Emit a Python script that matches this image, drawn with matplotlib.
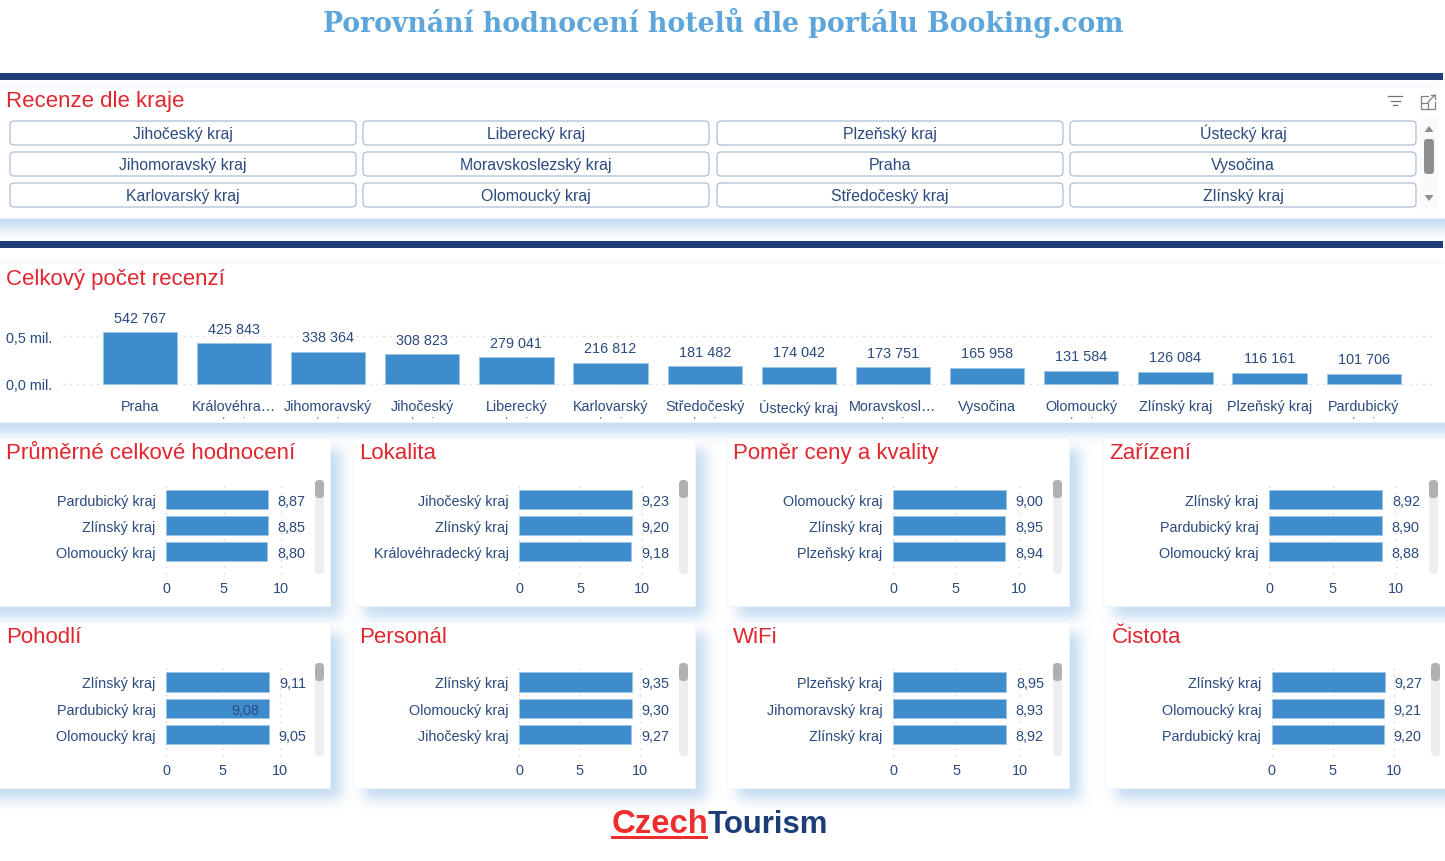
import numpy as np
import matplotlib
matplotlib.use("Agg")
import matplotlib.pyplot as plt
from matplotlib.patches import FancyBboxPatch, Rectangle, Polygon
from matplotlib.transforms import Bbox
from math import erf

W, H = 1445, 862
plt.rcParams['font.family'] = ['Liberation Sans', 'DejaVu Sans']

PAGE_TITLE = "Porovnání hodnocení hotelů dle portálu Booking.com"

slicer_columns = [
    ["Jihočeský kraj", "Jihomoravský kraj", "Karlovarský kraj"],
    ["Liberecký kraj", "Moravskoslezský kraj", "Olomoucký kraj"],
    ["Plzeňský kraj", "Praha", "Středočeský kraj"],
    ["Ústecký kraj", "Vysočina", "Zlínský kraj"],
]

review_labels = ["Praha", "Královéhra…", "Jihomoravský", "Jihočeský", "Liberecký", "Karlovarský",
                 "Středočeský", "Ústecký kraj", "Moravskosl…", "Vysočina", "Olomoucký",
                 "Zlínský kraj", "Plzeňský kraj", "Pardubický"]
review_counts = [542767, 425843, 338364, 308823, 279041, 216812, 181482,
                 174042, 173751, 165958, 131584, 126084, 116161, 101706]
review_wrapped = [False, True, True, True, True, True, True, False, True, False, True, False, False, True]
review_yticks = [0, 500000]
review_yticklabels = ["0,0 mil.", "0,5 mil."]

celkove_names = ["Pardubický kraj", "Zlínský kraj", "Olomoucký kraj"]
celkove_vals = [8.87, 8.85, 8.80]
lokalita_names = ["Jihočeský kraj", "Zlínský kraj", "Královéhradecký kraj"]
lokalita_vals = [9.23, 9.20, 9.18]
pomer_names = ["Olomoucký kraj", "Zlínský kraj", "Plzeňský kraj"]
pomer_vals = [9.00, 8.95, 8.94]
zarizeni_names = ["Zlínský kraj", "Pardubický kraj", "Olomoucký kraj"]
zarizeni_vals = [8.92, 8.90, 8.88]
pohodli_names = ["Zlínský kraj", "Pardubický kraj", "Olomoucký kraj"]
pohodli_vals = [9.11, 9.08, 9.05]
personal_names = ["Zlínský kraj", "Olomoucký kraj", "Jihočeský kraj"]
personal_vals = [9.35, 9.30, 9.27]
wifi_names = ["Plzeňský kraj", "Jihomoravský kraj", "Zlínský kraj"]
wifi_vals = [8.95, 8.93, 8.92]
cistota_names = ["Zlínský kraj", "Olomoucký kraj", "Pardubický kraj"]
cistota_vals = [9.27, 9.21, 9.20]
score_ticks = [0, 5, 10]

NAVY = "#1C3D78"
TXT = "#2B4A7F"
RED = "#E0262E"
BAR = "#3F8CCD"
BAR_EDGE = "#9CC5E8"
GRID = "#D2D2D2"
FS = 10.4

fig = plt.figure(figsize=(W / 100, H / 100), dpi=100, facecolor="white")
bg = fig.add_axes([0, 0, 1, 1], zorder=0)
bg.set_xlim(0, W)
bg.set_ylim(H, 0)
bg.axis("off")

# panels: x0, x1, y0, y1
row1 = (439, 607)
row2 = (623, 789)
panels = [
    (-40, W + 40, 87, 219), (-40, W + 40, 264, 423),
    (-40, 330, *row1), (353, 695, *row1), (727, 1069, *row1), (1103, W + 40, *row1),
    (-40, 330, *row2), (353, 695, *row2), (727, 1069, *row2), (1105, W + 40, *row2),
]
# soft drop shadows
X = np.arange(W) + 0.5
Y = np.arange(H) + 0.5
verf = np.vectorize(erf)
OFF, SIG = 11.0, 6.5
alpha = np.zeros((H, W))
for x0, x1, y0, y1 in panels:
    x0s = x0 + OFF if x0 >= 0 else -100
    ax_ = 0.5 * (verf((X - x0s) / (SIG * 2**.5)) - verf((X - x1 - OFF) / (SIG * 2**.5)))
    ay_ = 0.5 * (verf((Y - y0 - OFF) / (SIG * 2**.5)) - verf((Y - y1 - OFF) / (SIG * 2**.5)))
    alpha = np.maximum(alpha, np.outer(ay_, ax_))
img = np.zeros((H, W, 4))
img[..., :3] = np.array([195, 219, 240]) / 255
img[..., 3] = alpha
bg.imshow(img, extent=(0, W, H, 0), aspect="auto", zorder=1, interpolation="nearest")
bg.set_xlim(0, W)
bg.set_ylim(H, 0)

for x0, x1, y0, y1 in panels:
    bg.add_patch(Rectangle((x0, y0), x1 - x0, y1 - y0, fc="white", ec="#F1F6FB", lw=0.6, zorder=2))
bg.add_patch(Rectangle((0, 82), 1437, 5, fc="#F7FAFE", ec="none", zorder=2))
bg.add_patch(Rectangle((0, 261), 1437, 3, fc="#F9FBFE", ec="none", zorder=2))
bg.add_patch(Rectangle((0, 74), 1443, 7, fc=NAVY, ec="none", zorder=3))
bg.add_patch(Rectangle((0, 242), 1443, 7, fc=NAVY, ec="none", zorder=3))

bg.text(723, 23.5, PAGE_TITLE, family="DejaVu Serif", weight="bold", color="#5DA5DA",
        fontsize=19.2, ha="center", va="center", zorder=4)


def title(x, y, s):
    bg.text(x, y, s, color=RED, fontsize=16.05, ha="left", va="center", zorder=4)


title(6, 101.5, "Recenze dle kraje")
title(6, 279.5, "Celkový počet recenzí")

# slicer buttons
col_x = [(10, 356), (363, 709), (717, 1063), (1070, 1416)]
row_y = [(122, 146), (153, 177), (184, 208)]
for (xa, xb), col in zip(col_x, slicer_columns):
    for (ya, yb), name in zip(row_y, col):
        bg.add_patch(FancyBboxPatch((xa + 4, ya + 4), xb - xa - 8, yb - ya - 8,
                                    boxstyle="round,pad=4,rounding_size=4",
                                    fc="white", ec="#A3B6D2", lw=0.8, zorder=4))
        bg.text((xa + xb) / 2, yb - 7, name, color=TXT, fontsize=11.45,
                ha="center", va="baseline", zorder=5)

# slicer scrollbar and header icons
bg.add_patch(Rectangle((1420, 118), 18, 92, fc="#FAFAFA", ec="none", zorder=4))
bg.add_patch(FancyBboxPatch((1426, 142), 6, 31, boxstyle="round,pad=2,rounding_size=3",
                            fc="#8F8F8F", ec="none", zorder=5))
bg.add_patch(Polygon([(1424.5, 133), (1433.5, 133), (1429, 127)], fc="#8F8F8F", ec="none", zorder=5))
bg.add_patch(Polygon([(1424.5, 196), (1433.5, 196), (1429, 202)], fc="#8F8F8F", ec="none", zorder=5))
for yy, half in [(96.5, 7), (101.5, 4.5), (106, 2)]:
    bg.plot([1395 - half, 1395 + half], [yy, yy], color="#707070", lw=0.9, zorder=5)
bg.plot([1428, 1421, 1421, 1435, 1435], [97, 97, 110, 110, 103], color="#808080", lw=0.9, zorder=5)
bg.plot([1421, 1428, 1428], [104, 104, 110], color="#808080", lw=0.9, zorder=5)
bg.plot([1428, 1435], [103, 96], color="#808080", lw=0.9, zorder=5)
bg.plot([1431, 1435, 1435], [96, 96, 100], color="#808080", lw=0.9, zorder=5)


def add_axes_px(x0, x1, y0, y1):
    a = fig.add_axes([x0 / W, 1 - y1 / H, (x1 - x0) / W, (y1 - y0) / H], zorder=3)
    a.patch.set_alpha(0)
    for s in a.spines.values():
        s.set_visible(False)
    return a


# main column chart
GAX0, GAX1 = 63, 1437
STEP = 94.15
C0 = 139.8
main = add_axes_px(GAX0, GAX1, 305, 395)
main.set_xlim((GAX0 - C0) / STEP, (GAX1 - C0) / STEP)
PER_MIL = 94.4
main.set_ylim(-(395 - 384.5) / PER_MIL * 1e6, (384.5 - 305) / PER_MIL * 1e6)
xs = np.arange(len(review_counts))
main.bar(xs, review_counts, width=0.79, color=BAR, edgecolor=BAR_EDGE, linewidth=0.7, zorder=3)
for t in review_yticks:
    main.axhline(t, color=GRID, lw=1.0, dashes=(1, 3.8), zorder=1)
main.set_yticks(review_yticks, review_yticklabels, color=TXT, fontsize=FS)
main.set_xticks(xs, review_labels, color=TXT, fontsize=FS)
main.tick_params(axis="both", length=0)
main.tick_params(axis="y", pad=8)
main.tick_params(axis="x", pad=3.7)
for x, v in zip(xs, review_counts):
    main.annotate(f"{v:,}".replace(",", " "), (x, v), xytext=(0, 10.5), textcoords="offset points",
                  ha="center", va="center", color=TXT, fontsize=FS)
clip = Bbox([[0, H - 419.5], [W, H - 416]])
for x, w in zip(xs, review_wrapped):
    if w:
        t = main.annotate("kraj", (x, 0), xytext=(0, -(424.5 - 384.5) * 0.72), textcoords="offset points",
                          ha="center", va="center", color="#8090B0", fontsize=FS, annotation_clip=False)
        t.set_clip_on(True)
        t.set_clip_box(clip)

# horizontal score charts
specs = [
    ("Průměrné celkové hodnocení", celkove_names, celkove_vals, 6, 166.0, 281.0, 315, 1),
    ("Lokalita", lokalita_names, lokalita_vals, 359, 519.0, 641.5, 679, 1),
    ("Poměr ceny a kvality", pomer_names, pomer_vals, 733, 893.0, 1018.5, 1053, 1),
    ("Zařízení", zarizeni_names, zarizeni_vals, 1109, 1269.0, 1396.0, 1429, 1),
    ("Pohodlí", pohodli_names, pohodli_vals, 6, 166.0, 279.5, 315, 2),
    ("Personál", personal_names, personal_vals, 359, 519.0, 640.0, 679, 2),
    ("WiFi", wifi_names, wifi_vals, 733, 893.0, 1019.5, 1053, 2),
    ("Čistota", cistota_names, cistota_vals, 1112, 1271.5, 1393.5, 1431, 2),
]
ROW_STEP = 26.2
for name, cats, vals, tx, x0, x10, sx, row in specs:
    if row == 1:
        gy0, gy1, c0, ty, s0, s1 = 484, 575, 500.3, 453.5, 481, 575
    else:
        gy0, gy1, c0, ty, s0, s1 = 666, 757, 683.0, 637.5, 664, 757
    title(tx, ty, name)
    bg.add_patch(FancyBboxPatch((sx + 4, s0 + 4), 1, s1 - s0 - 8, boxstyle="round,pad=4,rounding_size=4",
                                fc="#EEEEEE", ec="none", zorder=4))
    bg.add_patch(FancyBboxPatch((sx + 4, s0 + 4), 1, 10, boxstyle="round,pad=4,rounding_size=4",
                                fc="#B0B0B0", ec="none", zorder=5))
    a = add_axes_px(x0, x10, gy0, gy1)
    a.set_xlim(0, 10)
    a.set_ylim((gy1 - c0) / ROW_STEP, (gy0 - c0) / ROW_STEP)
    ys = np.arange(len(vals))
    a.barh(ys, vals, height=0.74, color=BAR, edgecolor=BAR_EDGE, linewidth=0.7, zorder=3)
    for t in score_ticks:
        a.axvline(t, color=GRID, lw=1.0, dashes=(1, 3.8), zorder=1, clip_on=False)
    a.set_yticks(ys, cats, color=TXT, fontsize=FS)
    a.set_xticks(score_ticks, [str(t) for t in score_ticks], color=TXT, fontsize=FS)
    a.tick_params(axis="both", length=0)
    a.tick_params(axis="y", pad=7.5)
    a.tick_params(axis="x", pad=4.8)
    for y, v in zip(ys, vals):
        label = f"{v:.2f}".replace(".", ",")
        if name == "Pohodlí" and y == 1:
            a.annotate(label, (v, y), xytext=(-7, 0), textcoords="offset points",
                       ha="right", va="center_baseline", color=TXT, fontsize=FS, zorder=5)
        else:
            a.annotate(label, (v, y), xytext=(7, 0), textcoords="offset points",
                       ha="left", va="center_baseline", color=TXT, fontsize=FS, annotation_clip=False)

# logo
bg.text(708, 833, "Czech", color="#EE2E2E", weight="bold", fontsize=23.7, ha="right", va="baseline", zorder=4)
bg.text(708, 833, "Tourism", color=NAVY, weight="bold", fontsize=22.4, ha="left", va="baseline", zorder=4)
bg.add_patch(Rectangle((611, 837), 97, 3, fc="#EE2E2E", ec="none", zorder=4))

fig.savefig("out.png", dpi=100)
